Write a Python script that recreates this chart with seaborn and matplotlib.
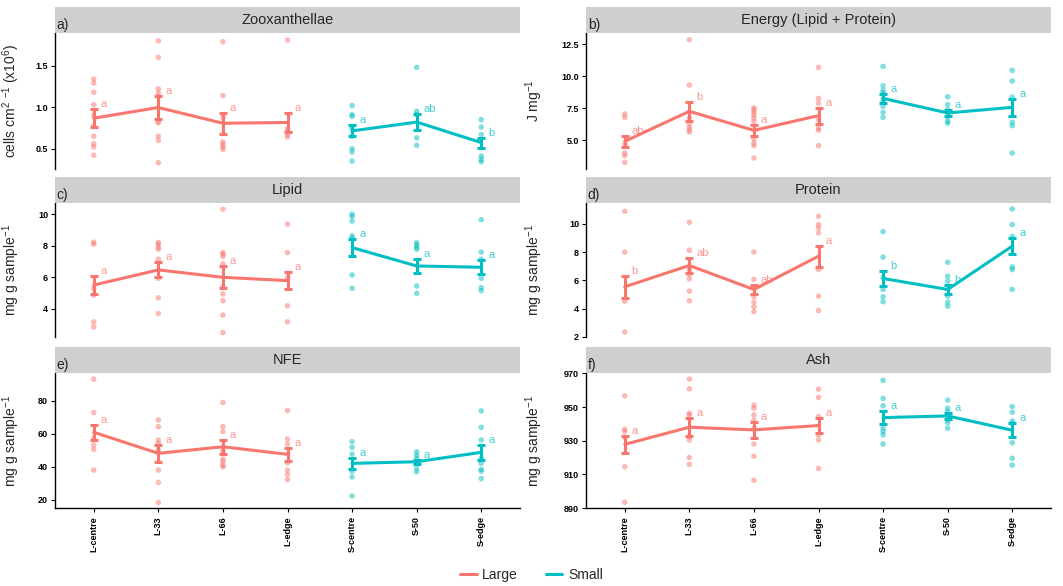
import matplotlib
matplotlib.use('Agg')
import matplotlib.pyplot as plt
from matplotlib.lines import Line2D
import pandas as pd
import seaborn as sns

sns.set_style('ticks')
plt.rcParams['font.family'] = ['Liberation Sans', 'DejaVu Sans']
plt.rcParams['mathtext.fontset'] = 'custom'
plt.rcParams['mathtext.rm'] = 'Liberation Sans'
plt.rcParams['mathtext.it'] = 'Liberation Sans:italic'
plt.rcParams['mathtext.default'] = 'regular'

sites = ['L-centre', 'L-33', 'L-66', 'L-edge', 'S-centre', 'S-50', 'S-edge']
sizes = ['Large', 'Large', 'Large', 'Large', 'Small', 'Small', 'Small']
pal = {'Large': '#F8766D', 'Small': '#00BFC4'}

# a) Zooxanthellae
zoo_pts = [[1.34, 1.29, 1.18, 1.03, 0.90, 0.77, 0.65, 0.56, 0.52, 0.42],
           [1.80, 1.60, 1.22, 1.17, 1.13, 0.83, 0.81, 0.65, 0.60, 0.33],
           [1.79, 1.14, 0.88, 0.58, 0.55, 0.52, 0.49],
           [1.81, 0.74, 0.71, 0.67, 0.64],
           [1.02, 0.91, 0.89, 0.74, 0.65, 0.50, 0.46, 0.35],
           [1.48, 0.95, 0.91, 0.63, 0.54],
           [0.85, 0.76, 0.67, 0.41, 0.37, 0.34]]
zoo_mean = [0.867, 0.996, 0.806, 0.815, 0.714, 0.820, 0.573]
zoo_se = [0.105, 0.14, 0.125, 0.11, 0.065, 0.10, 0.06]
zoo_let = ['a', 'a', 'a', 'a', 'a', 'ab', 'b']

# b) Energy
energy_pts = [[7.06, 6.80, 4.70, 4.01, 3.80, 3.28],
              [12.86, 9.32, 7.19, 6.74, 6.30, 6.02, 5.83, 5.65],
              [7.53, 7.40, 7.19, 7.00, 6.74, 6.48, 5.10, 4.79, 4.58, 3.62],
              [10.70, 8.28, 7.90, 6.61, 5.96, 5.78, 4.58],
              [10.78, 9.27, 8.90, 8.70, 8.23, 7.97, 7.66, 7.19, 6.80],
              [8.41, 7.79, 7.40, 6.82, 6.48, 6.35],
              [10.47, 9.64, 8.39, 6.41, 6.15, 4.01]]
energy_mean = [4.92, 7.27, 5.78, 6.93, 8.28, 7.14, 7.58]
energy_se = [0.42, 0.75, 0.44, 0.62, 0.36, 0.26, 0.65]
energy_let = ['ab', 'b', 'a', 'a', 'a', 'a', 'a']

# c) Lipid
lipid_pts = [[8.23, 8.11, 5.30, 4.87, 3.17, 2.85],
             [8.21, 8.11, 7.91, 7.79, 7.15, 5.94, 4.70, 3.70],
             [10.32, 7.57, 7.47, 7.32, 6.85, 5.40, 4.94, 4.51, 3.60, 2.49],
             [9.38, 7.57, 6.00, 4.19, 3.17],
             [10.0, 9.87, 9.57, 8.64, 8.49, 6.15, 5.30],
             [8.21, 8.06, 7.91, 7.79, 5.45, 4.98],
             [9.66, 7.60, 7.15, 5.94, 5.34, 5.15]]
lipid_mean = [5.51, 6.47, 6.00, 5.79, 7.89, 6.72, 6.64]
lipid_se = [0.57, 0.48, 0.70, 0.55, 0.52, 0.43, 0.45]
lipid_let = ['a', 'a', 'a', 'a', 'a', 'a', 'a']

# d) Protein
protein_pts = [[10.89, 7.99, 4.52, 2.33],
               [10.11, 8.13, 6.76, 6.41, 6.10, 5.23, 4.55],
               [8.01, 6.06, 4.83, 4.45, 4.12, 3.77],
               [10.54, 9.95, 9.71, 9.36, 6.76, 4.88, 3.86],
               [9.45, 7.64, 6.17, 5.35, 4.83, 4.48],
               [7.28, 6.29, 5.94, 4.88, 4.45, 4.17],
               [11.06, 9.95, 9.12, 6.95, 6.76, 5.35]]
protein_mean = [5.54, 7.05, 5.35, 7.71, 6.13, 5.35, 8.42]
protein_se = [0.80, 0.52, 0.35, 0.75, 0.50, 0.30, 0.56]
protein_let = ['b', 'ab', 'ab', 'a', 'b', 'b', 'a']

# e) NFE
nfe_pts = [[93.2, 72.9, 57.2, 53.2, 50.5, 37.9],
           [68.4, 64.3, 56.2, 54.2, 50.1, 37.9, 30.4, 18.2],
           [79.0, 64.3, 61.3, 50.1, 48.1, 44.6, 43.0, 40.9, 39.9],
           [74.1, 56.8, 53.8, 42.4, 37.9, 35.3, 32.2],
           [55.2, 51.7, 47.7, 37.3, 33.8, 22.2],
           [49.1, 47.0, 45.0, 38.9, 36.9],
           [73.9, 63.9, 56.2, 45.0, 42.0, 38.3, 37.3, 32.8]]
nfe_mean = [60.9, 48.1, 52.1, 47.5, 42.0, 43.0, 48.7]
nfe_se = [4.6, 5.1, 4.1, 3.9, 3.4, 1.3, 4.6]
nfe_let = ['a', 'a', 'a', 'a', 'a', 'a', 'a']

# f) Ash
ash_pts = [[956.7, 936.8, 935.4, 932.0, 914.5, 893.4],
           [966.6, 960.8, 946.3, 945.3, 932.4, 930.4, 920.0, 915.9],
           [951.1, 949.3, 945.3, 942.3, 937.4, 928.0, 920.8, 906.5],
           [960.6, 955.7, 944.3, 933.4, 930.4, 913.5],
           [965.8, 955.1, 950.7, 937.4, 935.4, 933.4, 928.0],
           [954.1, 949.3, 947.3, 942.3, 940.7, 937.4],
           [950.3, 946.9, 941.7, 940.3, 928.8, 919.5, 915.5]]
ash_mean = [927.8, 938.0, 936.4, 939.0, 943.7, 944.7, 936.2]
ash_se = [5.2, 5.3, 4.6, 4.3, 3.7, 1.7, 4.2]
ash_let = ['a', 'a', 'a', 'a', 'a', 'a', 'a']

mg = r'mg g sample$^{-1}$'
panels = [
    ('a)', 'Zooxanthellae', r'cells cm$^{2}$ $^{-1}$ (x10$^{6}$)', zoo_pts, zoo_mean, zoo_se, zoo_let,
     [0.5, 1.0, 1.5], ['0.5', '1.0', '1.5'], (0.254, 1.895)),
    ('b)', 'Energy (Lipid + Protein)', r'J mg$^{-1}$', energy_pts, energy_mean, energy_se, energy_let,
     [5.0, 7.5, 10.0, 12.5], ['5.0', '7.5', '10.0', '12.5'], (2.76, 13.39)),
    ('c)', 'Lipid', mg, lipid_pts, lipid_mean, lipid_se, lipid_let,
     [4, 6, 8, 10], ['4', '6', '8', '10'], (2.21, 10.72)),
    ('d)', 'Protein', mg, protein_pts, protein_mean, protein_se, protein_let,
     [2, 4, 6, 8, 10], ['2', '4', '6', '8', '10'], (1.98, 11.48)),
    ('e)', 'NFE', mg, nfe_pts, nfe_mean, nfe_se, nfe_let,
     [20, 40, 60, 80], ['20', '40', '60', '80'], (14.9, 96.9)),
    ('f)', 'Ash', mg, ash_pts, ash_mean, ash_se, ash_let,
     [890, 910, 930, 950, 970], ['890', '910', '930', '950', '970'], (890, 970.2)),
]

W, H = 1063, 586
fig = plt.figure(figsize=(W / 100, H / 100), dpi=100)

col_x = [55, 586]
pw = 465
rows = [(33, 169), (203, 337), (373, 508)]
strip_h = 26
ylab_x = [22, 545]

for i, (tag, title, ylab, pts, means, ses, lets, ticks, tlabels, ylim) in enumerate(panels):
    r, c = divmod(i, 2)
    top, bot = rows[r]
    x0 = col_x[c]
    ax = fig.add_axes([x0 / W, 1 - bot / H, pw / W, (bot - top) / H])
    sax = fig.add_axes([x0 / W, 1 - top / H, pw / W, strip_h / H])
    sax.set_facecolor('#cfcfcf')
    for s in sax.spines.values():
        s.set_visible(False)
    sax.set_xticks([])
    sax.set_yticks([])
    sax.text(0.5, 0.5, title, ha='center', va='center', fontsize=10.5, transform=sax.transAxes)
    sax.text(0.004, 0.02, tag, ha='left', va='bottom', fontsize=10, transform=sax.transAxes)

    raw = pd.DataFrame([(s, z, v) for s, z, vals in zip(sites, sizes, pts) for v in vals],
                       columns=['site', 'size', 'value'])
    summ = pd.DataFrame({'site': sites, 'size': sizes, 'mean': means, 'se': ses})

    sns.stripplot(data=raw, x='site', y='value', hue='size', order=sites,
                  hue_order=['Large', 'Small'], palette=pal, jitter=False, dodge=False,
                  size=4, alpha=0.5, linewidth=0, legend=False, ax=ax)
    sns.pointplot(data=summ, x='site', y='mean', hue='size', order=sites,
                  hue_order=['Large', 'Small'], palette=pal, errorbar=None,
                  markers='none', linewidth=2.2, legend=False, ax=ax)
    for j, row in summ.iterrows():
        col = pal[row['size']]
        ax.errorbar(j, row['mean'], yerr=row['se'], fmt='none', ecolor=col,
                    elinewidth=2.2, capsize=2.6, capthick=2.2, zorder=5)
        ax.annotate(lets[j], (j, row['mean'] + row['se']), xytext=(5, 0),
                    textcoords='offset points', ha='left', va='bottom',
                    fontsize=8, color=col, alpha=0.75)

    ax.set_xlim(-0.6, 6.6)
    ax.set_ylim(*ylim)
    ax.set_yticks(ticks)
    ax.set_yticklabels(tlabels, fontsize=6.5, fontweight='bold')
    ax.set_ylabel(ylab, fontsize=10)
    ax.yaxis.set_label_coords((ylab_x[c] - x0) / pw, 0.5)
    ax.set_xlabel('')
    ax.tick_params(axis='y', length=3, width=0.8, pad=2, colors='black')
    ax.spines['top'].set_visible(False)
    ax.spines['right'].set_visible(False)
    ax.spines['left'].set_color('black')
    ax.spines['left'].set_linewidth(1)
    if r == 2:
        ax.set_xticks(range(len(sites)))
        ax.set_xticklabels(sites, rotation=90, fontsize=6.5, fontweight='bold')
        ax.tick_params(axis='x', length=3, width=0.8, pad=3, colors='black')
        ax.spines['bottom'].set_color('black')
        ax.spines['bottom'].set_linewidth(1)
    else:
        ax.set_xticks([])
        ax.spines['bottom'].set_visible(False)

handles = [Line2D([], [], color=pal['Large'], lw=2.2), Line2D([], [], color=pal['Small'], lw=2.2)]
fig.legend(handles, ['Large', 'Small'], loc='center', bbox_to_anchor=(0.5, 1 - 575 / H),
           ncol=2, frameon=False, fontsize=10, handlelength=1.2, handletextpad=0.4,
           columnspacing=2.0)

fig.savefig('out.png', dpi=100, facecolor='white')
